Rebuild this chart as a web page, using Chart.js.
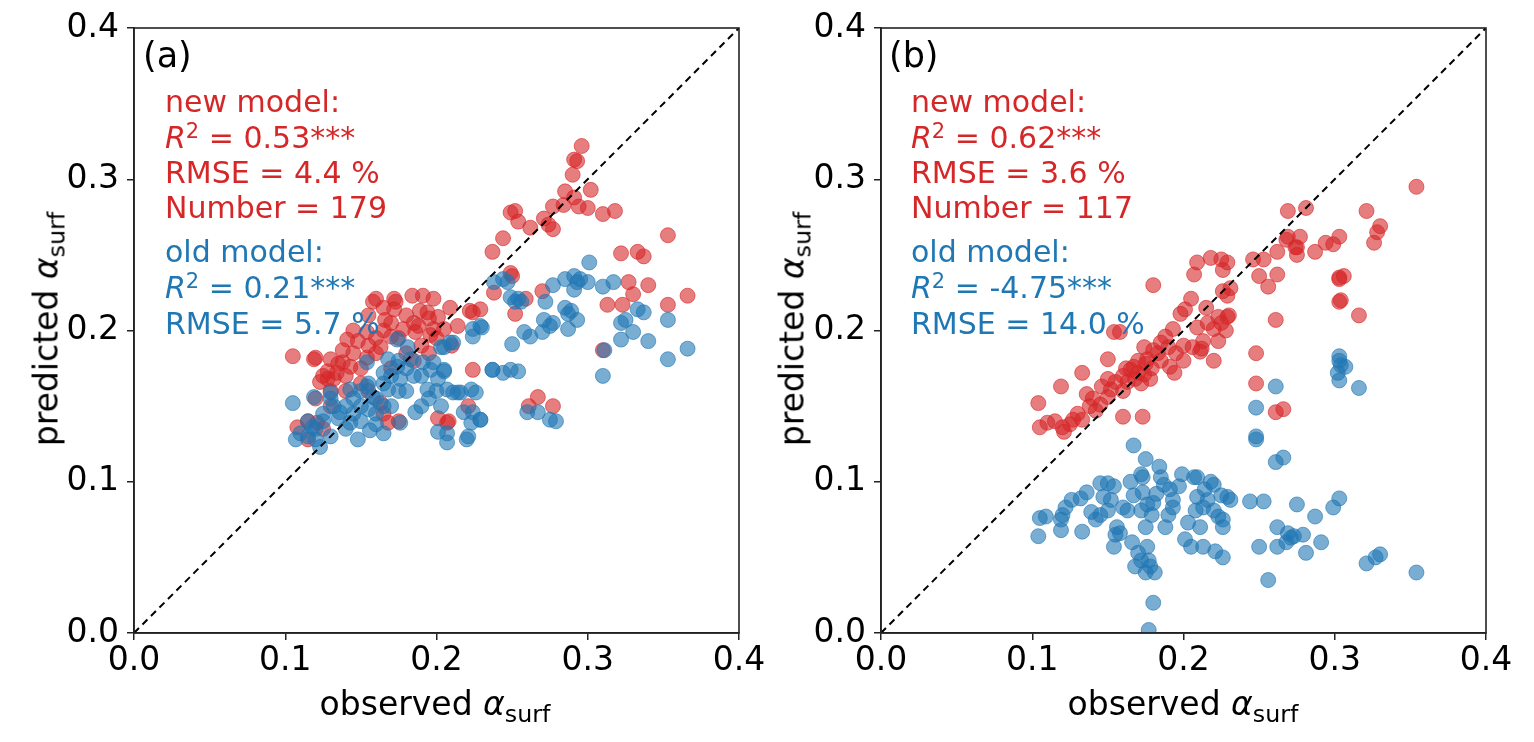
<!DOCTYPE html>
<html>
<head>
<meta charset="utf-8">
<script src="https://cdn.jsdelivr.net/npm/chart.js@4.4.1/dist/chart.umd.min.js"></script>
<style>
  body { margin: 0; background: #fff; font-family: "DejaVu Sans", sans-serif; }
  #wrap { position: relative; width: 1534px; height: 742px; overflow: hidden; }
  canvas { position: absolute; top: 0; }
  .t { position: absolute; font-size: 30px; line-height: 30px; white-space: nowrap; }
  .red { color: #d62728; }
  .blue { color: #1f77b4; }
  .lab { position: absolute; font-size: 35px; line-height: 35px; color: #000; }
  .xt { position: absolute; font-size: 33px; line-height: 33px; transform: translateX(-50%); white-space: nowrap; }
  .yt { position: absolute; font-size: 33px; line-height: 33px; transform: translate(-50%, -50%) rotate(-90deg); white-space: nowrap; }
  sup { font-size: 0.7em; line-height: 0; vertical-align: 0.5em; }
  sub { font-size: 0.72em; line-height: 0; vertical-align: -0.3em; }
</style>
</head>
<body>
<div id="wrap">
  <canvas id="chartA" width="775" height="742" style="left:0"></canvas>
  <canvas id="chartB" width="788" height="742" style="left:746px"></canvas>

  <div class="lab" style="left:143px;top:38px">(a)</div>
  <div class="t red" style="left:165px;top:87px">new model:</div>
  <div class="t red" style="left:165px;top:123px"><i>R</i><sup>2</sup> = 0.53***</div>
  <div class="t red" style="left:165px;top:158px">RMSE = 4.4 %</div>
  <div class="t red" style="left:165px;top:193px">Number = 179</div>
  <div class="t blue" style="left:165px;top:237px">old model:</div>
  <div class="t blue" style="left:165px;top:273px"><i>R</i><sup>2</sup> = 0.21***</div>
  <div class="t blue" style="left:165px;top:309px">RMSE = 5.7 %</div>

  <div class="lab" style="left:889px;top:38px">(b)</div>
  <div class="t red" style="left:911px;top:87px">new model:</div>
  <div class="t red" style="left:911px;top:123px"><i>R</i><sup>2</sup> = 0.62***</div>
  <div class="t red" style="left:911px;top:158px">RMSE = 3.6 %</div>
  <div class="t red" style="left:911px;top:193px">Number = 117</div>
  <div class="t blue" style="left:911px;top:237px">old model:</div>
  <div class="t blue" style="left:911px;top:273px"><i>R</i><sup>2</sup> = -4.75***</div>
  <div class="t blue" style="left:911px;top:309px">RMSE = 14.0 %</div>

  <div class="xt" style="left:435px;top:687px">observed <i>α</i><sub>surf</sub></div>
  <div class="xt" style="left:1183px;top:687px">observed <i>α</i><sub>surf</sub></div>
  <div class="yt" style="left:46px;top:329px">predicted <i>α</i><sub>surf</sub></div>
  <div class="yt" style="left:792px;top:329px">predicted <i>α</i><sub>surf</sub></div>
</div>

<script>
// axis ticks (both panels share the same range)
const tickValues = [0.0, 0.1, 0.2, 0.3, 0.4];

// panel (a): [observed, predicted]
const leftNew = [
  [0.296,0.322],[0.291,0.313],[0.293,0.312],[0.290,0.303],[0.302,0.293],[0.285,0.292],[0.291,0.288],[0.294,0.282],
  [0.300,0.281],[0.310,0.277],[0.318,0.279],[0.277,0.282],[0.284,0.283],[0.249,0.278],[0.252,0.279],[0.254,0.272],
  [0.262,0.268],[0.271,0.274],[0.274,0.270],[0.277,0.267],[0.244,0.261],[0.237,0.252],[0.353,0.263],[0.322,0.251],
  [0.333,0.252],[0.337,0.249],[0.249,0.238],[0.250,0.236],[0.238,0.225],[0.270,0.226],[0.327,0.232],[0.340,0.230],
  [0.330,0.224],[0.366,0.223],[0.353,0.217],[0.313,0.217],[0.323,0.217],[0.252,0.211],[0.259,0.221],[0.229,0.214],
  [0.224,0.212],[0.310,0.187],[0.224,0.174],[0.267,0.156],[0.261,0.150],[0.277,0.150],[0.221,0.150],[0.208,0.140],
  [0.198,0.221],[0.201,0.209],[0.205,0.201],[0.214,0.203],[0.105,0.183],[0.120,0.182],[0.160,0.221],[0.172,0.221],
  [0.184,0.223],[0.191,0.223],[0.130,0.181],[0.138,0.179],[0.132,0.168],[0.158,0.219],[0.173,0.219],[0.172,0.214],
  [0.189,0.213],[0.194,0.212],[0.209,0.215],[0.222,0.213],[0.166,0.207],[0.178,0.201],[0.188,0.203],[0.198,0.201],
  [0.154,0.199],[0.148,0.193],[0.141,0.194],[0.138,0.187],[0.128,0.173],[0.134,0.172],[0.143,0.176],[0.154,0.182],
  [0.163,0.189],[0.170,0.196],[0.123,0.166],[0.128,0.168],[0.207,0.139],[0.201,0.142],[0.163,0.152],[0.168,0.139],
  [0.115,0.140],[0.121,0.139],[0.186,0.199],[0.196,0.197],[0.108,0.136],[0.119,0.181],[0.130,0.160],[0.140,0.170],
  [0.150,0.175],[0.135,0.178],[0.145,0.185],[0.155,0.190],[0.160,0.195],[0.165,0.200],[0.170,0.205],[0.125,0.170],
  [0.140,0.160],[0.150,0.165],[0.160,0.185],[0.175,0.195],[0.185,0.205],[0.195,0.208],[0.130,0.150],[0.120,0.155],
  [0.145,0.200],[0.155,0.210],[0.165,0.215],[0.180,0.210],[0.180,0.185],[0.190,0.190],[0.200,0.195],[0.210,0.190],
  [0.115,0.128],[0.125,0.135],[0.165,0.145],[0.175,0.140],[0.155,0.160],[0.170,0.175],[0.185,0.180],[0.195,0.185]
];
const leftOld = [
  [0.301,0.245],[0.285,0.234],[0.291,0.236],[0.295,0.234],[0.300,0.232],[0.291,0.227],[0.293,0.232],[0.277,0.230],
  [0.310,0.229],[0.317,0.232],[0.238,0.232],[0.244,0.234],[0.247,0.232],[0.249,0.222],[0.254,0.221],[0.252,0.219],
  [0.256,0.219],[0.272,0.219],[0.285,0.215],[0.289,0.213],[0.293,0.207],[0.287,0.211],[0.271,0.207],[0.277,0.205],
  [0.275,0.203],[0.287,0.201],[0.333,0.214],[0.337,0.212],[0.325,0.207],[0.322,0.205],[0.353,0.207],[0.330,0.199],
  [0.322,0.194],[0.340,0.193],[0.258,0.199],[0.262,0.196],[0.270,0.199],[0.250,0.191],[0.366,0.188],[0.353,0.181],
  [0.311,0.187],[0.310,0.170],[0.237,0.174],[0.244,0.172],[0.249,0.174],[0.254,0.173],[0.211,0.159],[0.216,0.159],
  [0.226,0.159],[0.224,0.146],[0.229,0.141],[0.260,0.146],[0.267,0.146],[0.275,0.141],[0.279,0.140],[0.201,0.133],
  [0.221,0.130],[0.209,0.192],[0.224,0.201],[0.230,0.202],[0.203,0.189],[0.196,0.174],[0.205,0.173],[0.143,0.161],
  [0.154,0.163],[0.165,0.172],[0.174,0.176],[0.183,0.181],[0.191,0.179],[0.198,0.179],[0.205,0.174],[0.201,0.168],
  [0.207,0.161],[0.194,0.161],[0.186,0.146],[0.176,0.139],[0.165,0.132],[0.156,0.134],[0.148,0.128],[0.143,0.139],
  [0.136,0.146],[0.132,0.150],[0.150,0.150],[0.158,0.156],[0.168,0.161],[0.176,0.168],[0.181,0.189],[0.174,0.194],
  [0.211,0.192],[0.205,0.189],[0.224,0.196],[0.229,0.203],[0.237,0.174],[0.203,0.150],[0.218,0.146],[0.223,0.139],
  [0.229,0.141],[0.207,0.126],[0.220,0.128],[0.214,0.159],[0.223,0.161],[0.207,0.132],[0.168,0.181],[0.154,0.179],
  [0.125,0.145],[0.130,0.155],[0.140,0.150],[0.145,0.155],[0.150,0.160],[0.155,0.165],[0.160,0.155],[0.165,0.165],
  [0.170,0.170],[0.175,0.160],[0.160,0.145],[0.150,0.140],[0.140,0.135],[0.130,0.130],[0.120,0.135],[0.125,0.140],
  [0.135,0.142],[0.155,0.148],[0.170,0.150],[0.180,0.160],[0.185,0.170],[0.190,0.170],[0.180,0.175],[0.175,0.180],
  [0.165,0.150],[0.145,0.145],[0.115,0.140],[0.110,0.132],[0.120,0.128],[0.160,0.138],[0.190,0.150],[0.195,0.155],
  [0.200,0.160],[0.105,0.152],[0.119,0.156],[0.107,0.128],[0.118,0.136],[0.115,0.130],[0.123,0.123],[0.130,0.159]
];

// panel (b): [observed, predicted]
const rightNew = [
  [0.105,0.136],[0.110,0.139],[0.120,0.136],[0.121,0.133],[0.104,0.152],[0.119,0.163],[0.127,0.141],[0.133,0.141],
  [0.136,0.158],[0.133,0.172],[0.142,0.147],[0.145,0.151],[0.150,0.156],[0.152,0.161],[0.150,0.168],[0.155,0.166],
  [0.150,0.181],[0.160,0.143],[0.173,0.143],[0.160,0.170],[0.165,0.174],[0.170,0.172],[0.174,0.171],[0.178,0.168],
  [0.179,0.175],[0.176,0.181],[0.154,0.199],[0.158,0.199],[0.174,0.189],[0.180,0.187],[0.185,0.192],[0.190,0.189],
  [0.191,0.176],[0.193,0.201],[0.198,0.211],[0.205,0.221],[0.201,0.214],[0.180,0.230],[0.206,0.189],[0.211,0.186],
  [0.223,0.193],[0.213,0.193],[0.209,0.202],[0.216,0.205],[0.223,0.209],[0.229,0.209],[0.220,0.201],[0.225,0.205],
  [0.229,0.223],[0.231,0.228],[0.226,0.226],[0.207,0.237],[0.209,0.245],[0.218,0.248],[0.225,0.247],[0.229,0.245],
  [0.226,0.240],[0.246,0.247],[0.253,0.247],[0.262,0.252],[0.268,0.260],[0.275,0.255],[0.277,0.262],[0.250,0.236],
  [0.256,0.229],[0.262,0.237],[0.269,0.279],[0.281,0.281],[0.287,0.252],[0.294,0.258],[0.299,0.257],[0.303,0.262],
  [0.261,0.207],[0.303,0.235],[0.306,0.236],[0.303,0.219],[0.316,0.210],[0.321,0.279],[0.354,0.295],[0.330,0.269],
  [0.328,0.265],[0.326,0.258],[0.269,0.262],[0.274,0.255],[0.275,0.250],[0.248,0.185],[0.248,0.165],[0.261,0.146],
  [0.266,0.148],[0.168,0.168],[0.172,0.165],[0.162,0.175],[0.175,0.178],[0.170,0.180],[0.185,0.180],[0.195,0.185],
  [0.200,0.190],[0.188,0.196],[0.130,0.145],[0.140,0.155],[0.115,0.140],[0.125,0.138],[0.160,0.160],[0.163,0.166],
  [0.194,0.172],[0.200,0.180],[0.230,0.210],[0.215,0.215],[0.220,0.180],[0.228,0.200],[0.303,0.234],[0.304,0.220],
  [0.167,0.176],[0.183,0.185],[0.146,0.163],[0.138,0.150],[0.212,0.188]
];
const rightOld = [
  [0.167,0.124],[0.175,0.115],[0.172,0.105],[0.173,0.103],[0.185,0.103],[0.187,0.098],[0.191,0.095],[0.193,0.088],
  [0.193,0.083],[0.190,0.078],[0.199,0.105],[0.207,0.103],[0.209,0.103],[0.218,0.100],[0.220,0.098],[0.209,0.090],
  [0.213,0.083],[0.208,0.081],[0.220,0.081],[0.223,0.077],[0.226,0.075],[0.226,0.070],[0.229,0.090],[0.231,0.088],
  [0.225,0.091],[0.203,0.073],[0.201,0.062],[0.205,0.057],[0.213,0.057],[0.221,0.054],[0.226,0.050],[0.145,0.099],
  [0.150,0.099],[0.154,0.097],[0.147,0.090],[0.152,0.088],[0.150,0.081],[0.145,0.078],[0.142,0.075],[0.126,0.088],
  [0.132,0.089],[0.136,0.093],[0.105,0.076],[0.109,0.077],[0.120,0.078],[0.119,0.075],[0.119,0.068],[0.104,0.064],
  [0.133,0.067],[0.156,0.070],[0.155,0.065],[0.158,0.066],[0.154,0.057],[0.160,0.083],[0.163,0.081],[0.167,0.091],
  [0.173,0.093],[0.172,0.081],[0.176,0.085],[0.180,0.086],[0.179,0.078],[0.175,0.070],[0.176,0.057],[0.170,0.053],
  [0.172,0.048],[0.177,0.048],[0.178,0.044],[0.175,0.040],[0.181,0.040],[0.168,0.044],[0.180,0.020],[0.177,0.002],
  [0.248,0.128],[0.261,0.113],[0.266,0.116],[0.244,0.087],[0.253,0.087],[0.275,0.085],[0.287,0.077],[0.299,0.083],
  [0.303,0.089],[0.262,0.070],[0.269,0.066],[0.271,0.063],[0.273,0.064],[0.279,0.065],[0.268,0.060],[0.250,0.057],
  [0.262,0.057],[0.281,0.053],[0.291,0.060],[0.256,0.035],[0.321,0.046],[0.327,0.050],[0.330,0.052],[0.354,0.040],
  [0.303,0.183],[0.304,0.177],[0.307,0.176],[0.303,0.167],[0.316,0.162],[0.261,0.163],[0.248,0.149],[0.248,0.130],
  [0.303,0.180],[0.302,0.172],[0.165,0.100],[0.182,0.092],[0.197,0.097],[0.214,0.095],[0.166,0.060],[0.188,0.070],
  [0.211,0.070],[0.139,0.080],[0.122,0.083],[0.216,0.088],[0.184,0.110]
];

const diagonal = [[0, 0], [0.4, 0.4]];

const toPts = arr => arr.map(p => ({ x: p[0], y: p[1] }));

// plot frame (matplotlib style box)
const framePlugin = {
  id: 'frame',
  afterDatasetsDraw(chart) {
    const a = chart.chartArea, ctx = chart.ctx;
    ctx.save();
    ctx.strokeStyle = '#222';
    ctx.lineWidth = 1.6;
    ctx.strokeRect(a.left, a.top, a.right - a.left, a.bottom - a.top);
    ctx.restore();
  }
};

function makeChart(id, newPts, oldPts, yWidth, padRight) {
  const tickFont = { family: 'DejaVu Sans', size: 33 };
  const axis = (extra) => Object.assign({
    type: 'linear', min: 0, max: 0.4,
    afterBuildTicks: s => { s.ticks = tickValues.map(v => ({ value: v })); },
    grid: { drawOnChartArea: false, drawTicks: true, tickLength: 7, color: '#222', lineWidth: 1.5 },
    border: { display: true, color: '#222', width: 1.6 }
  }, extra);
  return new Chart(document.getElementById(id), {
    type: 'scatter',
    data: {
      datasets: [
        { type: 'line', data: toPts(diagonal), borderColor: '#000', borderWidth: 2, borderDash: [7, 5],
          pointRadius: 0, fill: false, order: 0 },
        { label: 'old model', data: toPts(oldPts), backgroundColor: 'rgba(31,119,180,0.6)',
          borderColor: 'rgba(31,119,180,0.6)', borderWidth: 1, pointRadius: 7.5, order: 1 },
        { label: 'new model', data: toPts(newPts), backgroundColor: 'rgba(214,39,40,0.6)',
          borderColor: 'rgba(214,39,40,0.6)', borderWidth: 1, pointRadius: 7.5, order: 2 }
      ]
    },
    options: {
      responsive: false, animation: false,
      layout: { padding: { top: 28, right: padRight, left: 0, bottom: 0 } },
      plugins: { legend: { display: false }, tooltip: { enabled: false } },
      scales: {
        x: axis({ position: 'bottom', afterFit: s => { s.height = 109; },
          ticks: { color: '#000', padding: 2, maxRotation: 0, font: tickFont, callback: v => v.toFixed(1) } }),
        y: axis({ position: 'left', afterFit: s => { s.width = yWidth; },
          ticks: { color: '#000', padding: 8, font: tickFont, callback: v => v.toFixed(1) } })
      }
    },
    plugins: [framePlugin]
  });
}

makeChart('chartA', leftNew, leftOld, 134, 36);
makeChart('chartB', rightNew, rightOld, 135, 48);
</script>
</body>
</html>
